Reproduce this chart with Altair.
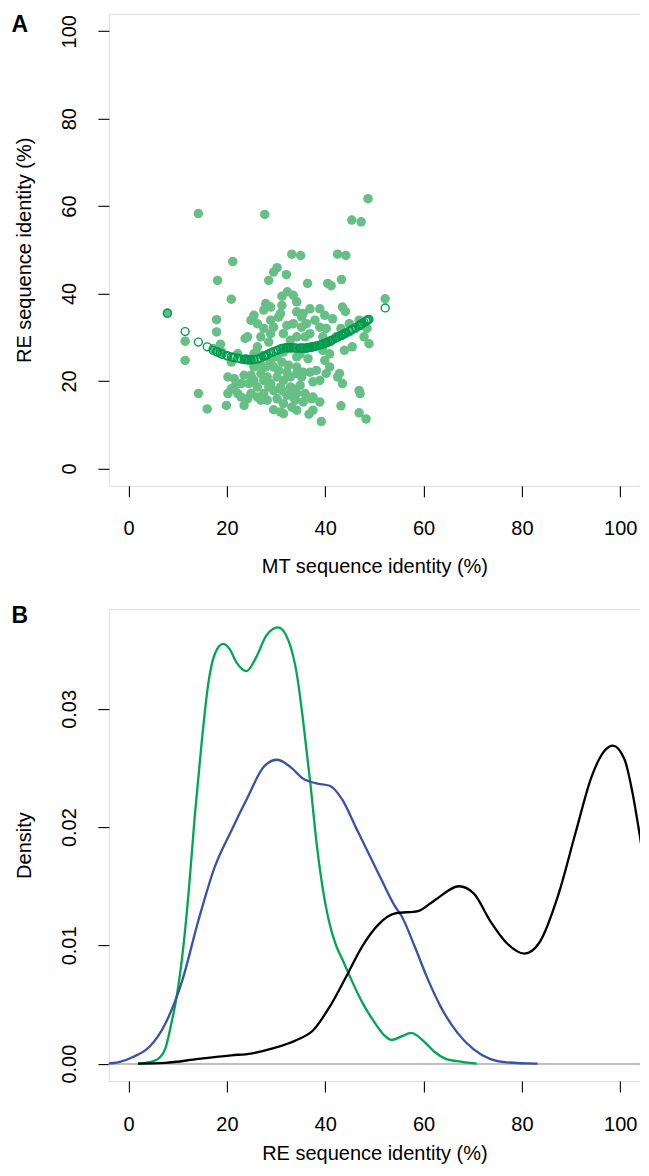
import altair as alt
import pandas as pd

FONT = "Liberation Sans"

# ---------------- Panel A data: MT vs RE sequence identity (%) ----------------
mt_identity = [48.7, 14.2, 27.7, 45.4, 47.3, 33.2, 35.0, 42.5, 44.2, 21.2,
               30.2, 29.5, 32.1, 18.1, 28.5, 43.3, 36.4, 40.5, 41.2, 20.9,
               31.2, 32.3, 33.5, 34.2, 27.9, 28.9, 30.9, 34.2, 35.5, 38.9,
               39.9, 43.5, 44.1, 52.2, 7.9, 17.9, 25.5, 24.9, 26.2, 28.9,
               29.5, 27.5, 30.5, 32.2, 36.2, 35.2, 37.9, 41.5, 43.2, 44.9,
               46.9, 48.5, 47.9, 17.9, 11.5, 11.5, 18.7, 23.7, 26.9, 28.5,
               26.2, 36.9, 39.5, 40.9, 43.9, 45.5, 48.9, 36.5, 39.9, 42.5,
               42.9, 20.2, 21.5, 20.9, 22.9, 23.5, 14.2, 16.0, 19.9, 38.2,
               37.2, 38.9, 43.2, 46.9, 47.1, 46.9, 48.3, 39.2, 36.7, 30.9,
               29.5, 33.9, 35.5, 23.5, 24.9, 26.9, 27.5, 28.9, 26.2, 27.5,
               29.5, 30.9, 31.5, 32.9, 34.9, 33.5, 32.2, 30.2, 28.2, 26.2,
               24.9, 24.2, 29.5, 31.2, 32.5, 34.2, 35.5, 36.9, 34.2, 28.9,
               30.5, 17.2, 19.0, 20.9, 22.2, 23.9, 25.5, 26.9, 31.5, 32.9,
               34.9, 37.5, 38.9, 42.2, 44.9, 46.2, 47.5, 25.5, 28.2, 30.2,
               31.2, 32.9, 34.2, 35.9, 37.5, 28.5, 26.9, 31.5, 33.2, 34.2,
               37.5, 22.2, 22.9, 27.9, 32.2, 35.2, 37.5, 34.2, 30.2, 40.2,
               40.9, 43.5, 25.5, 26.9, 35.9, 34.2, 35.2, 36.9, 31.2, 27.5,
               28.9, 24.2, 38.9, 40.2, 33.5, 40.9, 39.5, 31.5, 32.9, 25.5,
               20.2, 21.5, 24.5, 38.9, 31.5, 33.5]
re_identity = [61.7, 58.3, 58.1, 56.8, 56.4, 49.0, 48.7, 49.0, 48.7, 47.3,
               45.9, 44.9, 44.3, 43.0, 43.0, 43.2, 42.3, 42.3, 41.8, 38.7,
               39.4, 40.4, 39.6, 38.1, 37.7, 36.9, 35.4, 35.8, 35.4, 36.5,
               35.0, 36.9, 35.9, 38.8, 35.5, 34.0, 35.0, 33.9, 33.1, 33.9,
               32.3, 32.0, 34.6, 32.7, 33.1, 32.3, 33.9, 34.2, 32.0, 33.1,
               33.9, 32.0, 30.1, 31.2, 29.1, 24.7, 28.4, 29.7, 30.1, 28.9,
               27.8, 30.8, 30.1, 28.9, 27.0, 27.8, 28.5, 25.1, 24.7, 20.9,
               21.7, 20.9, 20.5, 18.2, 16.3, 14.4, 17.1, 13.6, 14.4, 22.4,
               15.9, 15.2, 14.3, 17.8, 17.1, 12.7, 11.3, 10.7, 12.4, 12.9,
               13.4, 15.6, 15.2, 21.3, 21.3, 21.7, 20.1, 19.4, 18.6, 17.1,
               17.8, 18.6, 20.1, 20.9, 19.0, 18.2, 16.7, 15.9, 15.6, 16.3,
               17.1, 15.9, 23.2, 24.3, 23.6, 23.2, 22.0, 22.0, 21.7, 24.3,
               22.4, 27.4, 26.6, 24.3, 26.2, 25.1, 24.3, 25.9, 26.6, 27.4,
               26.2, 27.8, 28.1, 30.1, 31.2, 32.0, 32.7, 20.1, 20.9, 20.9,
               17.8, 18.6, 17.1, 17.1, 16.3, 18.6, 15.6, 14.8, 14.0, 13.3,
               13.3, 17.1, 19.4, 23.2, 22.0, 20.9, 19.8, 25.5, 25.5, 21.7,
               23.2, 19.4, 23.2, 23.6, 30.1, 30.1, 34.6, 36.5, 37.3, 36.2,
               30.8, 30.1, 32.3, 32.0, 33.1, 26.2, 27.0, 30.8, 29.3, 26.2,
               17.1, 18.6, 19.4, 20.1, 12.5, 16.3]

# smoothed (fitted) RE identity drawn as open circles
smooth_x = [7.9, 11.5, 14.2, 16.0, 17.2, 17.9, 18.1, 18.7, 19.0, 19.9, 20.2,
            20.9, 21.2, 21.5, 22.2, 22.9, 23.5, 23.7, 23.9, 24.2, 24.5, 24.9,
            25.5, 26.2, 26.9, 27.5, 27.7, 27.9, 28.2, 28.5, 28.9, 29.5, 30.2,
            30.5, 30.9, 31.2, 31.5, 32.1, 32.2, 32.3, 32.5, 32.9, 33.2, 33.5,
            33.9, 34.2, 34.9, 35.0, 35.2, 35.5, 35.9, 36.2, 36.4, 36.5, 36.7,
            36.9, 37.2, 37.5, 37.9, 38.2, 38.9, 39.2, 39.5, 39.9, 40.2, 40.5,
            40.9, 41.2, 41.5, 42.2, 42.5, 42.9, 43.2, 43.3, 43.5, 43.9, 44.1,
            44.2, 44.9, 45.4, 45.5, 46.2, 46.9, 47.1, 47.3, 47.5, 47.9, 48.3,
            48.5, 48.7, 48.9, 52.2]
smooth_y = [35.5, 31.3, 28.9, 27.8, 27.0, 26.7, 26.6, 26.3, 26.1, 25.8, 25.7,
            25.5, 25.4, 25.3, 25.2, 25.0, 24.9, 24.9, 24.9, 24.8, 24.8, 24.8,
            24.9, 25.0, 25.3, 25.6, 25.7, 25.8, 26.0, 26.2, 26.4, 26.7, 27.0,
            27.1, 27.3, 27.4, 27.5, 27.6, 27.6, 27.6, 27.6, 27.6, 27.6, 27.6,
            27.5, 27.5, 27.5, 27.5, 27.5, 27.5, 27.5, 27.5, 27.6, 27.6, 27.6,
            27.7, 27.7, 27.8, 27.9, 28.0, 28.2, 28.3, 28.4, 28.6, 28.7, 28.9,
            29.1, 29.2, 29.4, 29.8, 30.0, 30.2, 30.4, 30.4, 30.5, 30.8, 30.9,
            31.0, 31.4, 31.7, 31.8, 32.2, 32.7, 32.8, 33.0, 33.1, 33.4, 33.7,
            33.8, 34.0, 34.1, 36.7]

# ---------------- Panel B data: density curves of RE sequence identity ----------------
green_x = [2, 4, 6, 7.5, 8.8, 9.5, 10.9, 12.2, 13.5, 14.9, 16.2, 17.5, 19.2,
           20.5, 22, 24, 26, 28, 30.4, 32.5, 34.2, 35.5, 37, 38.2, 39.5, 40.9,
           42.2, 43.5, 45.2, 47.5, 50, 52, 53.5, 55.5, 57.5, 60, 62.2, 64.5,
           66.8, 70.8]
green_y = [0.0, 0.0001, 0.0004, 0.0013, 0.0036, 0.0050, 0.0090, 0.0144,
           0.0211, 0.0273, 0.0321, 0.0346, 0.0355, 0.0351, 0.0339, 0.0332,
           0.0344, 0.0362, 0.0369, 0.0358, 0.0330, 0.0290, 0.0236, 0.0188,
           0.0148, 0.0118, 0.0100, 0.0088, 0.0072, 0.0052, 0.0035, 0.0024,
           0.0020, 0.0023, 0.0026, 0.0019, 0.0010, 0.0004, 0.0002, 0.0]

blue_x = [-5.8, -3, -1.8, 0.9, 4.2, 7.5, 10.9, 14.2, 17.5, 20.9, 24.2, 27.5,
          30.2, 32.9, 35.5, 38.2, 40.9, 43.5, 46.2, 48.9, 51.5, 54.2, 55.5,
          58.2, 60.9, 63.5, 66.9, 70.2, 73.5, 76.9, 83.2]
blue_y = [0.0, 0.00005, 0.00014, 0.00056, 0.0014, 0.0034, 0.0070, 0.0121,
          0.0166, 0.0197, 0.0225, 0.0251, 0.0257, 0.0251, 0.0241, 0.0237,
          0.0235, 0.0223, 0.0200, 0.0177, 0.0155, 0.0133, 0.0125, 0.0099,
          0.0071, 0.0048, 0.0026, 0.0012, 0.0004, 0.0001, 0.0]

black_x = [1.9, 7.5, 14.2, 20.9, 24.9, 29.5, 34.2, 37.5, 40.9, 44.2, 47.5,
           50.9, 54.2, 58.9, 62.2, 67.2, 70.2, 73.5, 76.9, 80.5, 83.5, 87.5,
           90.9, 94.2, 96.9, 98.5, 100.9, 102.5, 103.9, 106]
black_y = [0.0, 0.00006, 0.0004, 0.0007, 0.00085, 0.0013, 0.0020, 0.0028,
           0.0048, 0.0073, 0.0099, 0.0118, 0.0127, 0.0129, 0.0138, 0.0150,
           0.0144, 0.0121, 0.0102, 0.0093, 0.0102, 0.0144, 0.0195, 0.0243,
           0.0265, 0.0269, 0.0257, 0.0229, 0.0195, 0.0140]

series_names = ["green", "blue", "black"]
series_colors = ["#00A651", "#3953A4", "#000000"]

panel_labels = ["A", "B"]
x_ticks = [0, 20, 40, 60, 80, 100]
yA_ticks = [0, 20, 40, 60, 80, 100]
yB_ticks = [0, 0.01, 0.02, 0.03]

W, H = 531, 472

scatter_df = pd.DataFrame({"mt": mt_identity, "re": re_identity})
smooth_df = pd.DataFrame({"mt": smooth_x, "re": smooth_y})
dens_df = pd.concat([
    pd.DataFrame({"series": n, "x": xs, "y": ys})
    for n, xs, ys in zip(series_names, [green_x, blue_x, black_x],
                         [green_y, blue_y, black_y])
], ignore_index=True)


def x_axis(title, title_y):
    return alt.Axis(values=x_ticks, title=title, grid=False, domain=False,
                    tickSize=11, tickColor="black", tickWidth=1.1,
                    labelFont=FONT, labelFontSize=20, labelColor="black",
                    labelPadding=22, labelBaseline="top", labelAlign="center",
                    labelFlush=False, labelOverlap=False,
                    titleFont=FONT, titleFontSize=20, titleFontWeight="normal",
                    titleColor="black", titleX=W / 2, titleY=title_y,
                    titleBaseline="top", titleAlign="center")


def y_axis(title, values, fmt):
    return alt.Axis(values=values, title=title, format=fmt, grid=False,
                    domain=False, tickSize=11, tickColor="black", tickWidth=1.1,
                    labelFont=FONT, labelFontSize=20, labelColor="black",
                    labelAngle=270, labelAlign="center", labelBaseline="bottom",
                    labelPadding=18, labelFlush=False, labelOverlap=False,
                    titleFont=FONT, titleFontSize=20, titleFontWeight="normal",
                    titleColor="black", titleAngle=270, titleX=-74.7,
                    titleY=H / 2, titleBaseline="bottom", titleAlign="center")


def panel_tag(letter, dy):
    return alt.Chart(pd.DataFrame({"label": [letter]})).mark_text(
        align="left", baseline="alphabetic", font=FONT, fontSize=23,
        fontWeight="bold", color="black"
    ).encode(text="label:N", x=alt.value(-97.3), y=alt.value(dy))


xA = alt.X("mt:Q", scale=alt.Scale(domain=[-4, 104], nice=False, zero=False),
           axis=x_axis("MT sequence identity (%)", 71))
yA = alt.Y("re:Q", scale=alt.Scale(domain=[-4, 104], nice=False, zero=False),
           axis=y_axis("RE sequence identity (%)", yA_ticks, "d"))

points = alt.Chart(scatter_df).mark_circle(size=90, color="#66BF85", opacity=1).encode(x=xA, y=yA)
smooth = alt.Chart(smooth_df).mark_point(
    shape="circle", filled=False, size=62, strokeWidth=1.4,
    color="#009A4E", opacity=1).encode(x=xA, y=yA)

panel_a = alt.layer(points, smooth, panel_tag(panel_labels[0], 18.2)).properties(width=W, height=H)

xB = alt.X("x:Q", scale=alt.Scale(domain=[-4, 104], nice=False, zero=False),
           axis=x_axis("RE sequence identity (%)", 62))
yB = alt.Y("y:Q", scale=alt.Scale(domain=[-0.00148, 0.03844], nice=False, zero=False),
           axis=y_axis("Density", yB_ticks, ".2f"))

baseline = alt.Chart(dens_df).mark_rule(color="#BEBEBE", strokeWidth=1).encode(y=alt.datum(0))
lines = alt.Chart(dens_df).mark_line(strokeWidth=2.3, interpolate="monotone", clip=True).encode(
    x=xB, y=yB,
    color=alt.Color("series:N", scale=alt.Scale(domain=series_names, range=series_colors), legend=None),
    detail="series:N",
)
panel_b = alt.layer(baseline, lines, panel_tag(panel_labels[1], 14.3)).properties(width=W, height=H)

chart = alt.vconcat(panel_a, panel_b, spacing=123.3, bounds="flush").properties(
    padding={"left": 2.9, "top": 4.8, "right": -1, "bottom": 1},
).configure_view(stroke="black", strokeWidth=1.2).configure(background="white")

chart.save("out.html", embed_options={"renderer": "svg", "actions": False})
